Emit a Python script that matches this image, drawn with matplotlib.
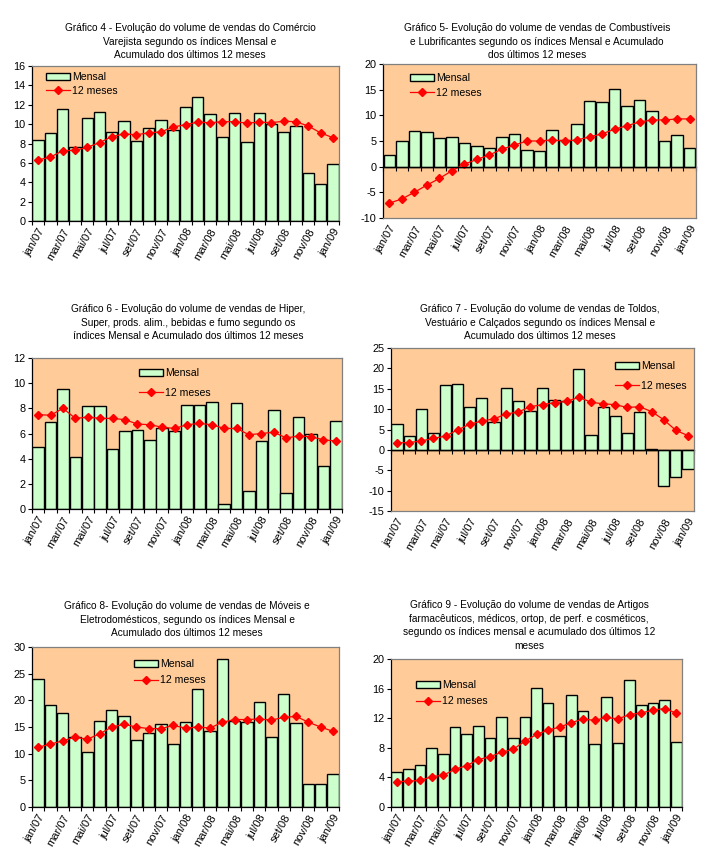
import matplotlib
matplotlib.use("Agg")
import matplotlib.pyplot as plt
import numpy as np

plt.rcParams['font.family'] = ['Liberation Sans', 'DejaVu Sans']
plt.rcParams['axes.unicode_minus'] = False

months = ["jan/07", "fev/07", "mar/07", "abr/07", "mai/07", "jun/07", "jul/07", "ago/07",
          "set/07", "out/07", "nov/07", "dez/07", "jan/08", "fev/08", "mar/08", "abr/08",
          "mai/08", "jun/08", "jul/08", "ago/08", "set/08", "out/08", "nov/08", "dez/08", "jan/09"]

# Gráfico 4
g4_mensal = [8.4, 9.1, 11.6, 7.6, 10.6, 11.3, 9.2, 10.3, 8.3, 9.6, 10.4, 9.4, 11.8, 12.8, 11.0,
             8.7, 11.1, 8.2, 11.2, 10.0, 9.2, 9.8, 5.0, 3.8, 5.9]
g4_12m = [6.3, 6.6, 7.25, 7.3, 7.6, 8.1, 8.7, 9.0, 8.9, 9.1, 9.2, 9.7, 9.95, 10.2, 10.15, 10.25,
          10.25, 10.1, 10.2, 10.15, 10.3, 10.25, 9.8, 9.1, 8.6]
# Gráfico 5
g5_mensal = [2.3, 5.0, 7.0, 6.8, 5.6, 5.8, 4.6, 4.0, 3.6, 5.8, 6.4, 3.3, 3.1, 7.2, 5.2, 8.3, 12.8,
             12.6, 15.1, 11.8, 13.0, 10.9, 5.0, 6.2, 3.7]
g5_12m = [-7.1, -6.3, -5.0, -3.6, -2.3, -0.8, 0.5, 1.4, 2.3, 3.4, 4.2, 5.0, 5.0, 5.2, 5.0, 5.2,
          5.8, 6.4, 7.3, 8.0, 8.7, 9.1, 9.1, 9.3, 9.3]
# Gráfico 6
g6_mensal = [4.9, 6.9, 9.5, 4.1, 8.2, 8.2, 4.8, 6.2, 6.3, 5.5, 6.4, 6.2, 8.3, 8.3, 8.5, 0.4, 8.4,
             1.4, 5.4, 7.9, 1.3, 7.3, 6.0, 3.4, 7.0]
g6_12m = [7.5, 7.45, 8.0, 7.2, 7.3, 7.2, 7.2, 7.1, 6.75, 6.7, 6.5, 6.4, 6.7, 6.8, 6.7, 6.4, 6.4,
          5.9, 6.0, 6.1, 5.65, 5.8, 5.75, 5.5, 5.4]
# Gráfico 7
g7_mensal = [6.4, 3.4, 10.1, 4.2, 16.0, 16.2, 10.4, 12.8, 6.9, 15.3, 12.1, 9.6, 15.3, 12.3, 12.0,
             19.8, 3.7, 10.4, 8.3, 4.2, 9.4, 0.2, -8.8, -6.6, -4.8]
g7_12m = [1.7, 1.8, 2.2, 2.8, 3.4, 4.9, 6.3, 7.1, 7.6, 8.8, 9.3, 10.6, 11.1, 11.6, 11.9, 12.9,
          11.7, 11.3, 11.1, 10.4, 10.6, 9.4, 7.4, 4.8, 3.5]
# Gráfico 8
g8_mensal = [24.0, 19.1, 17.6, 13.1, 10.3, 16.1, 18.2, 17.1, 12.6, 13.9, 15.6, 11.8, 16.0, 22.1,
             14.3, 27.8, 16.1, 16.0, 19.7, 13.2, 21.2, 15.8, 4.4, 4.4, 6.1]
g8_12m = [11.2, 11.8, 12.4, 13.1, 12.7, 13.7, 15.0, 15.5, 15.0, 14.7, 14.7, 15.3, 14.8, 15.0,
          14.8, 15.9, 16.4, 16.4, 16.5, 16.3, 16.8, 17.0, 15.9, 15.0, 14.2]
# Gráfico 9
g9_mensal = [4.7, 5.1, 5.7, 8.0, 7.2, 10.8, 9.9, 11.0, 9.3, 12.1, 9.3, 12.2, 16.1, 14.0, 9.6,
             15.2, 13.0, 8.5, 14.8, 8.7, 17.1, 13.8, 14.1, 14.4, 8.8]
g9_12m = [3.4, 3.5, 3.6, 4.1, 4.3, 5.1, 5.6, 6.4, 6.8, 7.4, 7.8, 8.9, 9.8, 10.4, 10.8, 11.4,
          11.9, 11.7, 12.1, 11.9, 12.5, 12.7, 13.1, 13.3, 12.7]

titles = [
    "Gráfico 4 - Evolução do volume de vendas do Comércio\nVarejista segundo os índices Mensal e\nAcumulado dos últimos 12 meses",
    "Gráfico 5- Evolução do volume de vendas de Combustíveis\ne Lubrificantes segundo os índices Mensal e Acumulado\ndos últimos 12 meses",
    "Gráfico 6 - Evolução do volume de vendas de Hiper,\nSuper, prods. alim., bebidas e fumo segundo os\níndices Mensal e Acumulado dos últimos 12 meses",
    "Gráfico 7 - Evolução do volume de vendas de Toldos,\nVestuário e Calçados segundo os índices Mensal e\nAcumulado dos últimos 12 meses",
    "Gráfico 8- Evolução do volume de vendas de Móveis e\nEletrodomésticos, segundo os índices Mensal e\nAcumulado dos últimos 12 meses",
    "Gráfico 9 - Evolução do volume de vendas de Artigos\nfarmacêuticos, médicos, ortop, de perf. e cosméticos,\nsegundo os índices mensal e acumulado dos últimos 12\nmeses",
]

W, H = 705, 868
fig = plt.figure(figsize=(W / 100, H / 100), dpi=100)

BG = "#FFCC99"
BAR = "#CCFFCC"
RED = "#FF0000"

panels = [
    # data, line, (l, r, t, b) px, ylim, yticks, title center x, title top y, legend (x, y), labelspacing
    (g4_mensal, g4_12m, (32, 339, 66, 221), (0, 16), np.arange(0, 17, 2), 190, 23, (46, 79), 0.35),
    (g5_mensal, g5_12m, (383, 696, 64, 218), (-10, 20), np.arange(-10, 21, 5), 537, 23, (410, 80), 0.45),
    (g6_mensal, g6_12m, (32, 342, 358, 509), (0, 12), np.arange(0, 13, 2), 188, 304, (139, 375), 0.9),
    (g7_mensal, g7_12m, (391, 694, 348, 511), (-15, 25), np.arange(-15, 26, 5), 540, 304, (615, 368), 0.9),
    (g8_mensal, g8_12m, (32, 339, 647, 807), (0, 30), np.arange(0, 31, 5), 187, 601, (134, 666), 0.6),
    (g9_mensal, g9_12m, (391, 682, 659, 807), (0, 20), np.arange(0, 21, 4), 529, 600, (416, 687), 0.6),
]

x = np.arange(len(months))
for (mensal, linha, (l, r, t, b), ylim, yticks, tcx, tty, (lgx, lgy), lsp), title in zip(panels, titles):
    ax = fig.add_axes([l / W, 1 - b / H, (r - l) / W, (b - t) / H])
    ax.set_facecolor(BG)
    bars = ax.bar(x, mensal, width=0.92, color=BAR, edgecolor="black", linewidth=1.0,
                  label="Mensal", zorder=2)
    ln, = ax.plot(x, linha, color=RED, lw=0.9, marker="D", markersize=4.3,
                  markerfacecolor=RED, markeredgecolor=RED, label="12 meses", zorder=3)
    ax.set_xlim(-0.5, len(months) - 0.5)
    ax.set_ylim(*ylim)
    ax.set_yticks(yticks)
    ax.set_yticklabels([str(v) for v in yticks], fontsize=7.8)
    ax.tick_params(axis="y", direction="out", length=3, width=0.8, pad=1.5)
    ax.set_xticks(x[::2])
    ax.set_xticklabels(months[::2], rotation=60, ha="right", rotation_mode="anchor", fontsize=8)
    ax.set_xticks(np.arange(-0.5, len(months), 1), minor=True)
    for sp in ("top", "right"):
        ax.spines[sp].set_color("#808080")
        ax.spines[sp].set_linewidth(0.9)
    ax.spines["left"].set_color("black")
    ax.spines["left"].set_linewidth(0.9)
    if ylim[0] < 0:
        ax.spines["bottom"].set_color("#808080")
        ax.spines["bottom"].set_linewidth(0.9)
        ax.tick_params(axis="x", which="both", length=0, pad=4)
        frac = (0 - ylim[0]) / (ylim[1] - ylim[0])
        sec = ax.secondary_xaxis(frac)
        sec.set_xticks([])
        sec.set_xticks(np.arange(-0.5, len(months), 1), minor=True)
        sec.tick_params(axis="x", which="minor", direction="out", length=3, width=0.8)
        sec.spines["bottom"].set_color("black")
        sec.spines["bottom"].set_linewidth(0.9)
        ax.axhline(0, color="black", lw=0.9, zorder=4)
    else:
        ax.spines["bottom"].set_color("black")
        ax.spines["bottom"].set_linewidth(0.9)
        ax.tick_params(axis="x", which="major", length=0, pad=4)
        ax.tick_params(axis="x", which="minor", direction="out", length=3, width=0.8)
    fig.text(tcx / W, 1 - tty / H, title, ha="center", va="top", fontsize=7.3,
             linespacing=1.45)
    ax.legend(handles=[bars, ln], labels=["Mensal", "12 meses"], loc="upper left",
              bbox_to_anchor=(lgx / W, 1 - lgy / H + 0.008), bbox_transform=fig.transFigure,
              frameon=False, fontsize=7.6, borderpad=0, borderaxespad=0,
              handlelength=2.3, handletextpad=0.2, labelspacing=lsp)

fig.savefig("out.png", dpi=100)
